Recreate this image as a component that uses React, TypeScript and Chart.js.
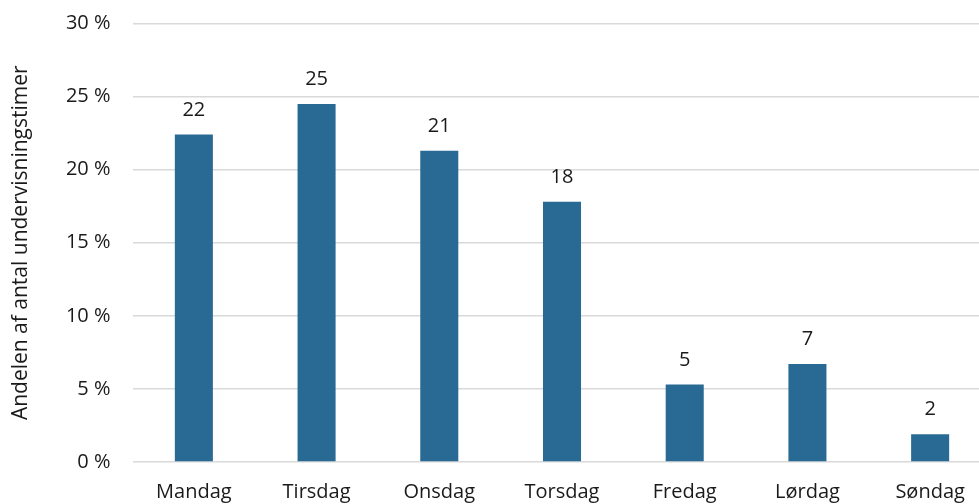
import React, { useEffect, useRef } from "react";
import { Chart, registerables } from "chart.js";

Chart.register(...registerables);

const categories = ["Mandag", "Tirsdag", "Onsdag", "Torsdag", "Fredag", "Lørdag", "Søndag"];
const shares = [22.4, 24.5, 21.3, 17.8, 5.3, 6.7, 1.9];
const yTicks = [0, 5, 10, 15, 20, 25, 30];
const yTitle = "Andelen af antal undervisningstimer";

const FONT = "'Open Sans', sans-serif";
const TEXT = "#1a1a1a";

const valueLabels = {
  id: "valueLabels",
  afterDatasetsDraw(chart: any) {
    const ctx = chart.ctx;
    const meta = chart.getDatasetMeta(0);
    ctx.save();
    ctx.font = `20px ${FONT}`;
    ctx.fillStyle = TEXT;
    ctx.textAlign = "center";
    ctx.textBaseline = "alphabetic";
    meta.data.forEach((bar: any, i: number) => {
      const v = chart.data.datasets[0].data[i] as number;
      ctx.fillText(String(Math.round(v)), bar.x, bar.y - 19);
    });
    ctx.restore();
  },
};

export default function App() {
  const ref = useRef<HTMLCanvasElement>(null);
  useEffect(() => {
    if (!ref.current) return;
    const chart = new Chart(ref.current, {
      type: "bar",
      data: {
        labels: categories,
        datasets: [
          {
            data: shares,
            backgroundColor: "#286A94",
            borderWidth: 0,
            categoryPercentage: 1,
            barPercentage: 0.31,
          },
        ],
      },
      options: {
        responsive: false,
        animation: false,
        layout: { padding: { top: 23.5, right: 8.5, left: 0, bottom: 0 } },
        plugins: { legend: { display: false }, tooltip: { enabled: false } },
        scales: {
          x: {
            grid: { display: false, drawTicks: false },
            border: { display: false },
            ticks: { font: { family: FONT, size: 20 }, color: TEXT, padding: 18, maxRotation: 0, autoSkip: false },
            afterFit: (s: any) => { s.height = 42; },
          },
          y: {
            min: 0,
            max: 30,
            afterBuildTicks: (s: any) => { s.ticks = yTicks.map((v) => ({ value: v })); },
            grid: { color: "#d9d9d9", lineWidth: 1.5, drawTicks: false },
            border: { display: false },
            ticks: {
              font: { family: FONT, size: 20 },
              color: TEXT,
              padding: 22,
              callback: (v: any) => `${v} %`,
            },
            title: {
              display: true,
              text: yTitle,
              font: { family: FONT, size: 21 },
              color: TEXT,
              padding: { top: 8, bottom: 0 },
            },
            afterFit: (s: any) => {
              s.width = 132.5;
              s.paddingTop = 0;
              s.paddingBottom = 0;
            },
          },
        },
      },
      plugins: [valueLabels],
    });
    return () => chart.destroy();
  }, []);
  return (
    <div style={{ position: "fixed", left: 0, top: 0, width: 979, height: 504, overflow: "hidden", background: "#fff" }}>
      <canvas ref={ref} width={1000} height={504} style={{ display: "block" }} />
    </div>
  );
}
